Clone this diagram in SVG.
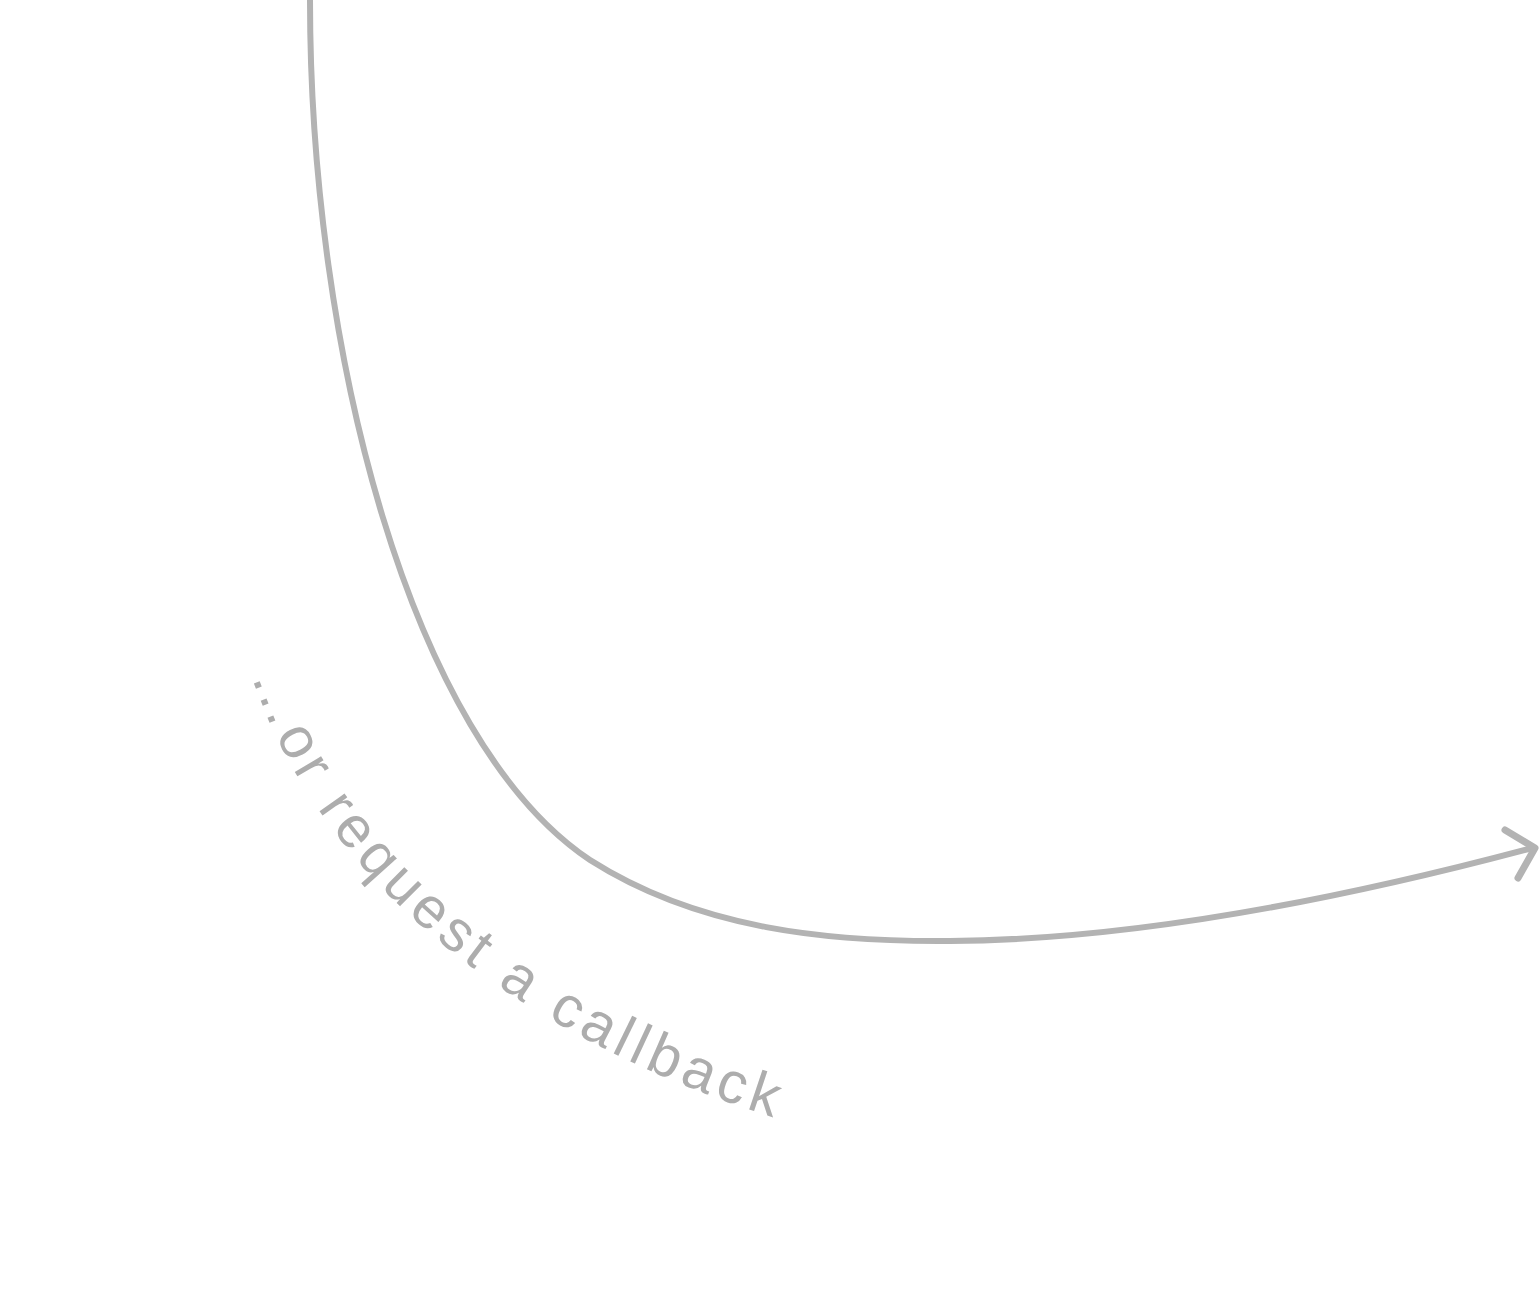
<svg xmlns="http://www.w3.org/2000/svg" xmlns:xlink="http://www.w3.org/1999/xlink" width="1539" height="1296" viewBox="0 0 1539 1296">
<style>
.conn{fill:none;stroke:#b3b3b3;stroke-width:6;stroke-linecap:round;stroke-linejoin:round}
.head{fill:none;stroke:#b3b3b3;stroke-width:7;stroke-linecap:round;stroke-linejoin:round}
.lbl{font-family:"Liberation Sans",Arial,sans-serif;font-size:58px;fill:#adadad;letter-spacing:5.5px}
</style>
<defs>
<path id="tp" d="M252,676 C 305,840 470,1040 850,1140"/>
</defs>
<rect width="1539" height="1296" fill="#ffffff"/>
<g id="connectors">
<path class="conn" d="M310,-5 L310,0 C 310,350 410,740 590,860 C 700,930 830,942 950,941 C 1110,940 1300,910 1532,848"/>
<path class="head" d="M1505,830 L1535,848 L1518,878"/>
</g>
<g id="label">
<text class="lbl"><textPath xlink:href="#tp" href="#tp">…or request a callback</textPath></text>
</g>
</svg>
